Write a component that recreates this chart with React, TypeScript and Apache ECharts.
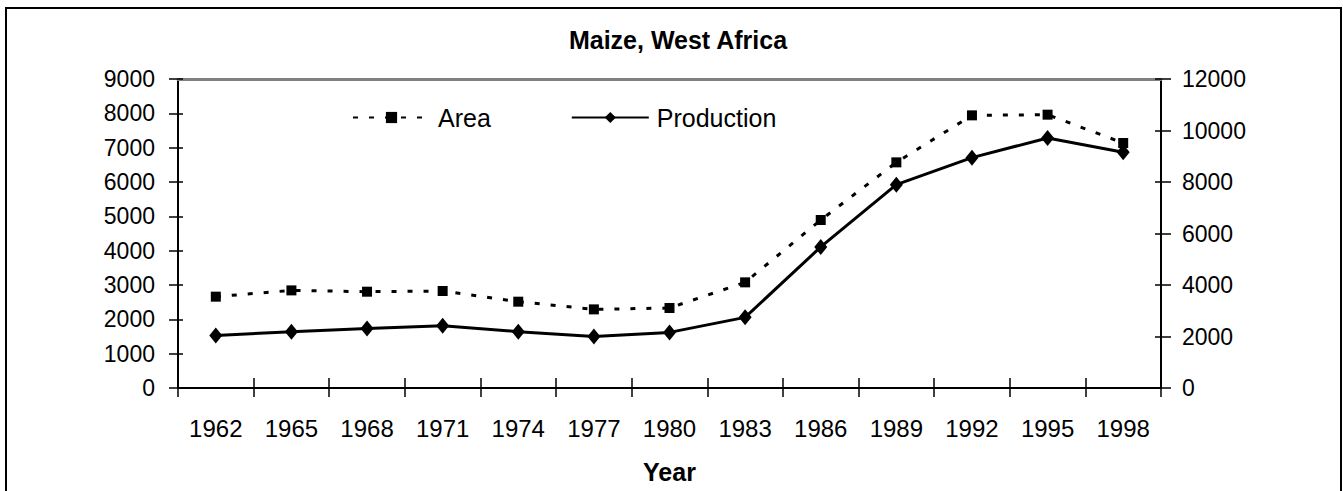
import React, { useEffect, useRef } from "react";
import * as echarts from "echarts";

const years = ["1962", "1965", "1968", "1971", "1974", "1977", "1980", "1983", "1986", "1989", "1992", "1995", "1998"];
const areaValues = [2660, 2843, 2805, 2825, 2514, 2290, 2330, 3077, 4893, 6572, 7941, 7961, 7136];
const productionValues = [2043, 2187, 2315, 2420, 2187, 2004, 2160, 2743, 5477, 7897, 8945, 9711, 9152];
const leftAxis = { min: 0, max: 9000, interval: 1000 };
const rightAxis = { min: 0, max: 12000, interval: 2000 };
const titleText = "Maize, West Africa";
const xName = "Year";

const FONT = "'Liberation Sans', Arial, sans-serif";
const plain = (v: number) => String(v);

export default function App() {
  const ref = useRef<HTMLDivElement>(null);
  useEffect(() => {
    if (!ref.current) return;
    const chart = echarts.init(ref.current, null, { renderer: "svg" });
    chart.setOption({
      animation: false,
      backgroundColor: "#ffffff",
      title: {
        text: titleText,
        left: 678,
        textAlign: "center",
        top: 27,
        padding: 0,
        textStyle: { fontFamily: FONT, fontWeight: "bold", fontSize: 25, color: "#000" },
      },
      legend: {
        left: 352,
        top: 105,
        padding: 0,
        itemWidth: 77,
        itemHeight: 14,
        itemGap: 80,
        textStyle: { fontFamily: FONT, fontSize: 25, color: "#000", padding: [0, 0, 0, 3] },
        data: ["Area", "Production"],
      },
      grid: {
        left: 178,
        right: 182,
        top: 79,
        bottom: 103,
        containLabel: false,
        outerBoundsMode: "none",
      },
      graphic: [
        {
          type: "rect",
          shape: { x: 6, y: 8, width: 1335, height: 500 },
          style: { fill: "none", stroke: "#000", lineWidth: 2 },
          silent: true,
        },
      ],
      xAxis: [
        {
          type: "category",
          data: years,
          position: "bottom",
          boundaryGap: true,
          name: xName,
          nameLocation: "middle",
          nameGap: 71,
          nameTextStyle: { fontFamily: FONT, fontWeight: "bold", fontSize: 25, color: "#000" },
          axisLine: { show: true, onZero: false, lineStyle: { color: "#000", width: 2 } },
          axisTick: { show: true, inside: false, length: 9, lineStyle: { color: "#000", width: 1.5 } },
          axisLabel: { fontFamily: FONT, fontSize: 24, color: "#000", margin: 28, interval: 0 },
          splitLine: { show: false },
        },
        {
          type: "category",
          data: years,
          position: "bottom",
          boundaryGap: true,
          axisLine: { show: false },
          axisTick: { show: true, inside: true, length: 10, lineStyle: { color: "#000", width: 1.5 } },
          axisLabel: { show: false },
          splitLine: { show: false },
        },
        {
          type: "category",
          data: years,
          position: "top",
          boundaryGap: true,
          axisLine: { show: true, onZero: false, lineStyle: { color: "#808080", width: 3 } },
          axisTick: { show: false },
          axisLabel: { show: false },
          splitLine: { show: false },
        },
      ],
      yAxis: [
        {
          type: "value",
          position: "left",
          ...leftAxis,
          axisLine: { show: true, onZero: false, lineStyle: { color: "#000", width: 2 } },
          axisTick: { show: true, inside: false, length: 9, lineStyle: { color: "#000", width: 1.5 } },
          axisLabel: { fontFamily: FONT, fontSize: 23, color: "#000", margin: 23, formatter: plain },
          splitLine: { show: false },
        },
        {
          type: "value",
          position: "right",
          ...rightAxis,
          axisLine: { show: true, onZero: false, lineStyle: { color: "#000", width: 2 } },
          axisTick: { show: true, inside: false, length: 10, lineStyle: { color: "#000", width: 1.5 } },
          axisLabel: { fontFamily: FONT, fontSize: 23, color: "#000", margin: 21, formatter: plain },
          splitLine: { show: false },
        },
        {
          type: "value",
          position: "left",
          ...leftAxis,
          axisLine: { show: false },
          axisTick: { show: true, inside: true, length: 5, lineStyle: { color: "#000", width: 1.5 } },
          axisLabel: { show: false },
          splitLine: { show: false },
        },
        {
          type: "value",
          position: "right",
          ...rightAxis,
          axisLine: { show: false },
          axisTick: { show: true, inside: true, length: 6, lineStyle: { color: "#000", width: 1.5 } },
          axisLabel: { show: false },
          splitLine: { show: false },
        },
      ],
      series: [
        {
          name: "Area",
          type: "line",
          xAxisIndex: 0,
          yAxisIndex: 0,
          data: areaValues,
          symbol: "rect",
          symbolSize: 10,
          itemStyle: { color: "#000" },
          lineStyle: { color: "#000", width: 3, type: [5, 11] },
          z: 3,
        },
        {
          name: "Production",
          type: "line",
          xAxisIndex: 0,
          yAxisIndex: 1,
          data: productionValues,
          symbol: "diamond",
          symbolSize: [13, 16],
          itemStyle: { color: "#000" },
          lineStyle: { color: "#000", width: 3, type: "solid" },
          z: 4,
        },
      ],
    });
    return () => chart.dispose();
  }, []);
  return (
    <div
      ref={ref}
      style={{ position: "fixed", left: 0, top: 0, width: 1343, height: 491, background: "#fff" }}
    />
  );
}
